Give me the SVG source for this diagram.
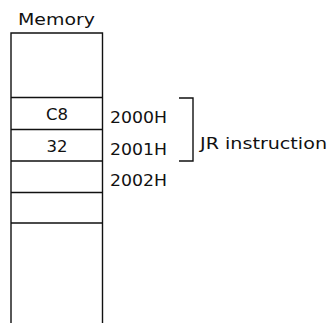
<svg xmlns="http://www.w3.org/2000/svg" width="329" height="323" viewBox="0 0 329 323">
<style>
text{font-family:"DejaVu Sans","Liberation Sans",sans-serif;font-size:16.5px;fill:#111}
.ln{stroke:#111;stroke-width:1.4;fill:none}
</style>
<rect width="329" height="323" fill="#fff"/>
<g id="title"><text x="18" y="25" textLength="77" lengthAdjust="spacingAndGlyphs">Memory</text></g>
<g id="memory">
<path class="ln" d="M11,323 V33 H102.5 V323"/>
<path class="ln" d="M11,97.5 H102.5 M11,129.5 H102.5 M11,161 H102.5 M11,192.5 H102.5 M11,223 H102.5"/>
</g>
<g id="cell-2000H"><text x="57" y="120" text-anchor="middle">C8</text><text x="110" y="123" textLength="57" lengthAdjust="spacingAndGlyphs">2000H</text></g>
<g id="cell-2001H"><text x="57" y="151.5" text-anchor="middle">32</text><text x="110" y="154.5" textLength="57" lengthAdjust="spacingAndGlyphs">2001H</text></g>
<g id="cell-2002H"><text x="110" y="185.5" textLength="57" lengthAdjust="spacingAndGlyphs">2002H</text></g>
<g id="connectors"><path class="ln" d="M179,98 H193 V161 H179"/></g>
<g id="label"><text x="200" y="149" textLength="127" lengthAdjust="spacingAndGlyphs">JR instruction</text></g>
</svg>
